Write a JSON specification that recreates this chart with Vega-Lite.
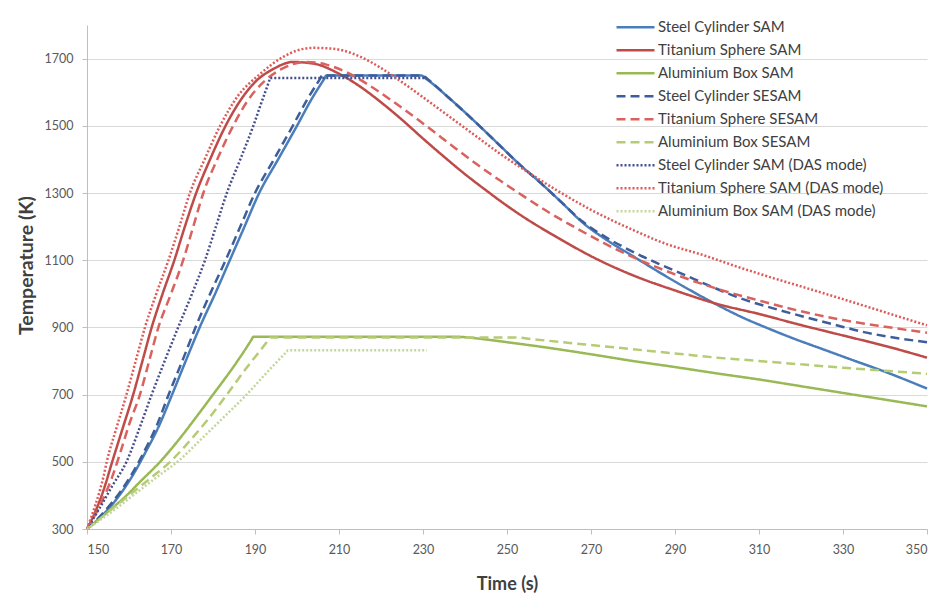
{
  "$schema": "https://vega.github.io/schema/vega-lite/v6.json",
  "width": 840,
  "height": 504,
  "autosize": {"type": "none"},
  "padding": {"left": 87, "top": 25, "right": 16, "bottom": 74},
  "background": "white",
  "config": {
    "view": {"stroke": null},
    "font": "Lato",
    "axis": {
      "domainColor": "#BFBFBF",
      "tickColor": "#BFBFBF",
      "tickSize": 5,
      "labelColor": "#595959",
      "labelFont": "Lato",
      "labelFontSize": 12.5,
      "labelPadding": 9,
      "titleFont": "Lato",
      "titleFontSize": 18,
      "titleFontWeight": "bold",
      "titleColor": "#404040",
      "gridColor": "#D9D9D9",
      "gridWidth": 1
    },
    "legend": {
      "orient": "none",
      "legendX": 528,
      "legendY": -9,
      "padding": 0,
      "symbolType": "stroke",
      "symbolSize": 1444,
      "labelFont": "Lato",
      "labelFontSize": 15,
      "labelColor": "#404040",
      "labelOffset": 2,
      "labelLimit": 0,
      "rowPadding": 0,
      "clipHeight": 22.4
    }
  },
  "data": {
    "values": [
      {"series": "Steel Cylinder SAM", "time": 150, "temp": 300},
      {"series": "Steel Cylinder SAM", "time": 154, "temp": 345},
      {"series": "Steel Cylinder SAM", "time": 158, "temp": 405},
      {"series": "Steel Cylinder SAM", "time": 161, "temp": 462},
      {"series": "Steel Cylinder SAM", "time": 164, "temp": 530},
      {"series": "Steel Cylinder SAM", "time": 167, "temp": 603},
      {"series": "Steel Cylinder SAM", "time": 170, "temp": 692},
      {"series": "Steel Cylinder SAM", "time": 173.5, "temp": 800},
      {"series": "Steel Cylinder SAM", "time": 177, "temp": 905},
      {"series": "Steel Cylinder SAM", "time": 180.5, "temp": 1000},
      {"series": "Steel Cylinder SAM", "time": 184, "temp": 1100},
      {"series": "Steel Cylinder SAM", "time": 187.5, "temp": 1200},
      {"series": "Steel Cylinder SAM", "time": 191, "temp": 1300},
      {"series": "Steel Cylinder SAM", "time": 195.5, "temp": 1400},
      {"series": "Steel Cylinder SAM", "time": 200, "temp": 1500},
      {"series": "Steel Cylinder SAM", "time": 203.5, "temp": 1580},
      {"series": "Steel Cylinder SAM", "time": 206.6, "temp": 1642},
      {"series": "Steel Cylinder SAM", "time": 207, "temp": 1650},
      {"series": "Steel Cylinder SAM", "time": 229.7, "temp": 1650},
      {"series": "Steel Cylinder SAM", "time": 230.1, "temp": 1646},
      {"series": "Steel Cylinder SAM", "time": 232, "temp": 1628},
      {"series": "Steel Cylinder SAM", "time": 236, "temp": 1585},
      {"series": "Steel Cylinder SAM", "time": 240, "temp": 1540},
      {"series": "Steel Cylinder SAM", "time": 244, "temp": 1493},
      {"series": "Steel Cylinder SAM", "time": 248, "temp": 1445},
      {"series": "Steel Cylinder SAM", "time": 253, "temp": 1385},
      {"series": "Steel Cylinder SAM", "time": 258, "temp": 1330},
      {"series": "Steel Cylinder SAM", "time": 263, "temp": 1272},
      {"series": "Steel Cylinder SAM", "time": 268, "temp": 1212},
      {"series": "Steel Cylinder SAM", "time": 274, "temp": 1158},
      {"series": "Steel Cylinder SAM", "time": 280, "temp": 1112},
      {"series": "Steel Cylinder SAM", "time": 286, "temp": 1066},
      {"series": "Steel Cylinder SAM", "time": 292, "temp": 1022},
      {"series": "Steel Cylinder SAM", "time": 299, "temp": 974},
      {"series": "Steel Cylinder SAM", "time": 306, "temp": 930},
      {"series": "Steel Cylinder SAM", "time": 312, "temp": 898},
      {"series": "Steel Cylinder SAM", "time": 318, "temp": 868},
      {"series": "Steel Cylinder SAM", "time": 325, "temp": 836},
      {"series": "Steel Cylinder SAM", "time": 332, "temp": 804},
      {"series": "Steel Cylinder SAM", "time": 340, "temp": 768},
      {"series": "Steel Cylinder SAM", "time": 350, "temp": 718},

      {"series": "Titanium Sphere SAM", "time": 150, "temp": 300},
      {"series": "Titanium Sphere SAM", "time": 152, "temp": 352},
      {"series": "Titanium Sphere SAM", "time": 154, "temp": 418},
      {"series": "Titanium Sphere SAM", "time": 156, "temp": 500},
      {"series": "Titanium Sphere SAM", "time": 158.5, "temp": 600},
      {"series": "Titanium Sphere SAM", "time": 161, "temp": 700},
      {"series": "Titanium Sphere SAM", "time": 163.2, "temp": 800},
      {"series": "Titanium Sphere SAM", "time": 165.4, "temp": 900},
      {"series": "Titanium Sphere SAM", "time": 168, "temp": 1000},
      {"series": "Titanium Sphere SAM", "time": 170.8, "temp": 1100},
      {"series": "Titanium Sphere SAM", "time": 173.3, "temp": 1200},
      {"series": "Titanium Sphere SAM", "time": 176, "temp": 1300},
      {"series": "Titanium Sphere SAM", "time": 179.3, "temp": 1400},
      {"series": "Titanium Sphere SAM", "time": 183, "temp": 1500},
      {"series": "Titanium Sphere SAM", "time": 186.5, "temp": 1575},
      {"series": "Titanium Sphere SAM", "time": 190, "temp": 1630},
      {"series": "Titanium Sphere SAM", "time": 194.5, "temp": 1670},
      {"series": "Titanium Sphere SAM", "time": 199, "temp": 1690},
      {"series": "Titanium Sphere SAM", "time": 204, "temp": 1685},
      {"series": "Titanium Sphere SAM", "time": 210, "temp": 1655},
      {"series": "Titanium Sphere SAM", "time": 215, "temp": 1617},
      {"series": "Titanium Sphere SAM", "time": 220, "temp": 1570},
      {"series": "Titanium Sphere SAM", "time": 225, "temp": 1518},
      {"series": "Titanium Sphere SAM", "time": 230, "temp": 1462},
      {"series": "Titanium Sphere SAM", "time": 235, "temp": 1408},
      {"series": "Titanium Sphere SAM", "time": 240, "temp": 1356},
      {"series": "Titanium Sphere SAM", "time": 245, "temp": 1308},
      {"series": "Titanium Sphere SAM", "time": 250, "temp": 1262},
      {"series": "Titanium Sphere SAM", "time": 255, "temp": 1220},
      {"series": "Titanium Sphere SAM", "time": 260, "temp": 1182},
      {"series": "Titanium Sphere SAM", "time": 265, "temp": 1146},
      {"series": "Titanium Sphere SAM", "time": 270, "temp": 1112},
      {"series": "Titanium Sphere SAM", "time": 280, "temp": 1055},
      {"series": "Titanium Sphere SAM", "time": 290, "temp": 1010},
      {"series": "Titanium Sphere SAM", "time": 300, "temp": 970},
      {"series": "Titanium Sphere SAM", "time": 310, "temp": 940},
      {"series": "Titanium Sphere SAM", "time": 320, "temp": 907},
      {"series": "Titanium Sphere SAM", "time": 330, "temp": 876},
      {"series": "Titanium Sphere SAM", "time": 340, "temp": 845},
      {"series": "Titanium Sphere SAM", "time": 350, "temp": 810},

      {"series": "Aluminium Box SAM", "time": 150, "temp": 300},
      {"series": "Aluminium Box SAM", "time": 155, "temp": 352},
      {"series": "Aluminium Box SAM", "time": 159, "temp": 395},
      {"series": "Aluminium Box SAM", "time": 163, "temp": 445},
      {"series": "Aluminium Box SAM", "time": 167.4, "temp": 500},
      {"series": "Aluminium Box SAM", "time": 172, "temp": 568},
      {"series": "Aluminium Box SAM", "time": 176, "temp": 633},
      {"series": "Aluminium Box SAM", "time": 180, "temp": 700},
      {"series": "Aluminium Box SAM", "time": 185, "temp": 785},
      {"series": "Aluminium Box SAM", "time": 189.2, "temp": 864},
      {"series": "Aluminium Box SAM", "time": 189.6, "temp": 872},
      {"series": "Aluminium Box SAM", "time": 238, "temp": 872},
      {"series": "Aluminium Box SAM", "time": 245, "temp": 864},
      {"series": "Aluminium Box SAM", "time": 250, "temp": 856},
      {"series": "Aluminium Box SAM", "time": 260, "temp": 839},
      {"series": "Aluminium Box SAM", "time": 270, "temp": 820},
      {"series": "Aluminium Box SAM", "time": 280, "temp": 800},
      {"series": "Aluminium Box SAM", "time": 290, "temp": 782},
      {"series": "Aluminium Box SAM", "time": 300, "temp": 763},
      {"series": "Aluminium Box SAM", "time": 310, "temp": 745},
      {"series": "Aluminium Box SAM", "time": 320, "temp": 725},
      {"series": "Aluminium Box SAM", "time": 330, "temp": 705},
      {"series": "Aluminium Box SAM", "time": 340, "temp": 685},
      {"series": "Aluminium Box SAM", "time": 350, "temp": 665},

      {"series": "Steel Cylinder SESAM", "time": 150, "temp": 300},
      {"series": "Steel Cylinder SESAM", "time": 154, "temp": 350},
      {"series": "Steel Cylinder SESAM", "time": 158, "temp": 412},
      {"series": "Steel Cylinder SESAM", "time": 161, "temp": 470},
      {"series": "Steel Cylinder SESAM", "time": 164, "temp": 540},
      {"series": "Steel Cylinder SESAM", "time": 166.5, "temp": 605},
      {"series": "Steel Cylinder SESAM", "time": 169.5, "temp": 702},
      {"series": "Steel Cylinder SESAM", "time": 173, "temp": 810},
      {"series": "Steel Cylinder SESAM", "time": 176, "temp": 905},
      {"series": "Steel Cylinder SESAM", "time": 179.5, "temp": 1005},
      {"series": "Steel Cylinder SESAM", "time": 183, "temp": 1100},
      {"series": "Steel Cylinder SESAM", "time": 186.5, "temp": 1200},
      {"series": "Steel Cylinder SESAM", "time": 190, "temp": 1300},
      {"series": "Steel Cylinder SESAM", "time": 194.5, "temp": 1400},
      {"series": "Steel Cylinder SESAM", "time": 199, "temp": 1500},
      {"series": "Steel Cylinder SESAM", "time": 202.5, "temp": 1580},
      {"series": "Steel Cylinder SESAM", "time": 205.6, "temp": 1642},
      {"series": "Steel Cylinder SESAM", "time": 206, "temp": 1650},
      {"series": "Steel Cylinder SESAM", "time": 230, "temp": 1650},
      {"series": "Steel Cylinder SESAM", "time": 230.4, "temp": 1646},
      {"series": "Steel Cylinder SESAM", "time": 232, "temp": 1630},
      {"series": "Steel Cylinder SESAM", "time": 236, "temp": 1585},
      {"series": "Steel Cylinder SESAM", "time": 240, "temp": 1540},
      {"series": "Steel Cylinder SESAM", "time": 244, "temp": 1493},
      {"series": "Steel Cylinder SESAM", "time": 248, "temp": 1445},
      {"series": "Steel Cylinder SESAM", "time": 253, "temp": 1385},
      {"series": "Steel Cylinder SESAM", "time": 258, "temp": 1330},
      {"series": "Steel Cylinder SESAM", "time": 263, "temp": 1272},
      {"series": "Steel Cylinder SESAM", "time": 268, "temp": 1215},
      {"series": "Steel Cylinder SESAM", "time": 274, "temp": 1165},
      {"series": "Steel Cylinder SESAM", "time": 280, "temp": 1125},
      {"series": "Steel Cylinder SESAM", "time": 286, "temp": 1090},
      {"series": "Steel Cylinder SESAM", "time": 292, "temp": 1058},
      {"series": "Steel Cylinder SESAM", "time": 298, "temp": 1025},
      {"series": "Steel Cylinder SESAM", "time": 306, "temp": 985},
      {"series": "Steel Cylinder SESAM", "time": 313, "temp": 958},
      {"series": "Steel Cylinder SESAM", "time": 320, "temp": 934},
      {"series": "Steel Cylinder SESAM", "time": 328, "temp": 908},
      {"series": "Steel Cylinder SESAM", "time": 335, "temp": 886},
      {"series": "Steel Cylinder SESAM", "time": 342, "temp": 870},
      {"series": "Steel Cylinder SESAM", "time": 350, "temp": 856},

      {"series": "Titanium Sphere SESAM", "time": 150, "temp": 300},
      {"series": "Titanium Sphere SESAM", "time": 153, "temp": 368},
      {"series": "Titanium Sphere SESAM", "time": 156, "temp": 455},
      {"series": "Titanium Sphere SESAM", "time": 158, "temp": 530},
      {"series": "Titanium Sphere SESAM", "time": 160, "temp": 610},
      {"series": "Titanium Sphere SESAM", "time": 162.6, "temp": 700},
      {"series": "Titanium Sphere SESAM", "time": 164.8, "temp": 800},
      {"series": "Titanium Sphere SESAM", "time": 167, "temp": 900},
      {"series": "Titanium Sphere SESAM", "time": 170, "temp": 1000},
      {"series": "Titanium Sphere SESAM", "time": 172.9, "temp": 1100},
      {"series": "Titanium Sphere SESAM", "time": 175.3, "temp": 1200},
      {"series": "Titanium Sphere SESAM", "time": 177.7, "temp": 1300},
      {"series": "Titanium Sphere SESAM", "time": 181, "temp": 1400},
      {"series": "Titanium Sphere SESAM", "time": 184.8, "temp": 1500},
      {"series": "Titanium Sphere SESAM", "time": 188, "temp": 1570},
      {"series": "Titanium Sphere SESAM", "time": 192, "temp": 1630},
      {"series": "Titanium Sphere SESAM", "time": 196.5, "temp": 1670},
      {"series": "Titanium Sphere SESAM", "time": 202, "temp": 1690},
      {"series": "Titanium Sphere SESAM", "time": 207, "temp": 1682},
      {"series": "Titanium Sphere SESAM", "time": 212, "temp": 1658},
      {"series": "Titanium Sphere SESAM", "time": 217, "temp": 1622},
      {"series": "Titanium Sphere SESAM", "time": 222, "temp": 1580},
      {"series": "Titanium Sphere SESAM", "time": 227, "temp": 1535},
      {"series": "Titanium Sphere SESAM", "time": 232, "temp": 1488},
      {"series": "Titanium Sphere SESAM", "time": 237, "temp": 1440},
      {"series": "Titanium Sphere SESAM", "time": 242, "temp": 1393},
      {"series": "Titanium Sphere SESAM", "time": 248, "temp": 1340},
      {"series": "Titanium Sphere SESAM", "time": 254, "temp": 1290},
      {"series": "Titanium Sphere SESAM", "time": 260, "temp": 1242},
      {"series": "Titanium Sphere SESAM", "time": 267, "temp": 1192},
      {"series": "Titanium Sphere SESAM", "time": 274, "temp": 1145},
      {"series": "Titanium Sphere SESAM", "time": 282, "temp": 1098},
      {"series": "Titanium Sphere SESAM", "time": 290, "temp": 1058},
      {"series": "Titanium Sphere SESAM", "time": 300, "temp": 1015},
      {"series": "Titanium Sphere SESAM", "time": 310, "temp": 980},
      {"series": "Titanium Sphere SESAM", "time": 320, "temp": 948},
      {"series": "Titanium Sphere SESAM", "time": 330, "temp": 922},
      {"series": "Titanium Sphere SESAM", "time": 340, "temp": 902},
      {"series": "Titanium Sphere SESAM", "time": 350, "temp": 884},

      {"series": "Aluminium Box SESAM", "time": 150, "temp": 300},
      {"series": "Aluminium Box SESAM", "time": 155, "temp": 350},
      {"series": "Aluminium Box SESAM", "time": 160, "temp": 400},
      {"series": "Aluminium Box SESAM", "time": 165, "temp": 450},
      {"series": "Aluminium Box SESAM", "time": 169.8, "temp": 500},
      {"series": "Aluminium Box SESAM", "time": 175, "temp": 570},
      {"series": "Aluminium Box SESAM", "time": 180, "temp": 645},
      {"series": "Aluminium Box SESAM", "time": 183.3, "temp": 700},
      {"series": "Aluminium Box SESAM", "time": 188, "temp": 780},
      {"series": "Aluminium Box SESAM", "time": 193.2, "temp": 863},
      {"series": "Aluminium Box SESAM", "time": 193.6, "temp": 870},
      {"series": "Aluminium Box SESAM", "time": 252, "temp": 870},
      {"series": "Aluminium Box SESAM", "time": 256, "temp": 865},
      {"series": "Aluminium Box SESAM", "time": 260, "temp": 860},
      {"series": "Aluminium Box SESAM", "time": 268, "temp": 850},
      {"series": "Aluminium Box SESAM", "time": 276, "temp": 840},
      {"series": "Aluminium Box SESAM", "time": 284, "temp": 830},
      {"series": "Aluminium Box SESAM", "time": 292, "temp": 820},
      {"series": "Aluminium Box SESAM", "time": 300, "temp": 810},
      {"series": "Aluminium Box SESAM", "time": 310, "temp": 800},
      {"series": "Aluminium Box SESAM", "time": 320, "temp": 790},
      {"series": "Aluminium Box SESAM", "time": 330, "temp": 780},
      {"series": "Aluminium Box SESAM", "time": 340, "temp": 771},
      {"series": "Aluminium Box SESAM", "time": 350, "temp": 762},

      {"series": "Steel Cylinder SAM (DAS mode)", "time": 150, "temp": 300},
      {"series": "Steel Cylinder SAM (DAS mode)", "time": 153, "temp": 362},
      {"series": "Steel Cylinder SAM (DAS mode)", "time": 156, "temp": 428},
      {"series": "Steel Cylinder SAM (DAS mode)", "time": 159.4, "temp": 500},
      {"series": "Steel Cylinder SAM (DAS mode)", "time": 162.5, "temp": 600},
      {"series": "Steel Cylinder SAM (DAS mode)", "time": 165.4, "temp": 700},
      {"series": "Steel Cylinder SAM (DAS mode)", "time": 168.5, "temp": 800},
      {"series": "Steel Cylinder SAM (DAS mode)", "time": 171.7, "temp": 900},
      {"series": "Steel Cylinder SAM (DAS mode)", "time": 175, "temp": 1000},
      {"series": "Steel Cylinder SAM (DAS mode)", "time": 178.1, "temp": 1100},
      {"series": "Steel Cylinder SAM (DAS mode)", "time": 180.7, "temp": 1200},
      {"series": "Steel Cylinder SAM (DAS mode)", "time": 183.3, "temp": 1300},
      {"series": "Steel Cylinder SAM (DAS mode)", "time": 186.5, "temp": 1400},
      {"series": "Steel Cylinder SAM (DAS mode)", "time": 189.6, "temp": 1500},
      {"series": "Steel Cylinder SAM (DAS mode)", "time": 191.5, "temp": 1568},
      {"series": "Steel Cylinder SAM (DAS mode)", "time": 193.3, "temp": 1631},
      {"series": "Steel Cylinder SAM (DAS mode)", "time": 193.6, "temp": 1642},
      {"series": "Steel Cylinder SAM (DAS mode)", "time": 231, "temp": 1642},

      {"series": "Titanium Sphere SAM (DAS mode)", "time": 150, "temp": 300},
      {"series": "Titanium Sphere SAM (DAS mode)", "time": 151, "temp": 335},
      {"series": "Titanium Sphere SAM (DAS mode)", "time": 152, "temp": 372},
      {"series": "Titanium Sphere SAM (DAS mode)", "time": 153, "temp": 412},
      {"series": "Titanium Sphere SAM (DAS mode)", "time": 154, "temp": 460},
      {"series": "Titanium Sphere SAM (DAS mode)", "time": 154.7, "temp": 500},
      {"series": "Titanium Sphere SAM (DAS mode)", "time": 157, "temp": 600},
      {"series": "Titanium Sphere SAM (DAS mode)", "time": 159.4, "temp": 700},
      {"series": "Titanium Sphere SAM (DAS mode)", "time": 161.6, "temp": 800},
      {"series": "Titanium Sphere SAM (DAS mode)", "time": 163.8, "temp": 900},
      {"series": "Titanium Sphere SAM (DAS mode)", "time": 166.5, "temp": 1000},
      {"series": "Titanium Sphere SAM (DAS mode)", "time": 169.4, "temp": 1100},
      {"series": "Titanium Sphere SAM (DAS mode)", "time": 172, "temp": 1200},
      {"series": "Titanium Sphere SAM (DAS mode)", "time": 174.5, "temp": 1300},
      {"series": "Titanium Sphere SAM (DAS mode)", "time": 178, "temp": 1400},
      {"series": "Titanium Sphere SAM (DAS mode)", "time": 181.7, "temp": 1500},
      {"series": "Titanium Sphere SAM (DAS mode)", "time": 186, "temp": 1590},
      {"series": "Titanium Sphere SAM (DAS mode)", "time": 191, "temp": 1652},
      {"series": "Titanium Sphere SAM (DAS mode)", "time": 196.7, "temp": 1705},
      {"series": "Titanium Sphere SAM (DAS mode)", "time": 200, "temp": 1724},
      {"series": "Titanium Sphere SAM (DAS mode)", "time": 204, "temp": 1732},
      {"series": "Titanium Sphere SAM (DAS mode)", "time": 208, "temp": 1730},
      {"series": "Titanium Sphere SAM (DAS mode)", "time": 211, "temp": 1724},
      {"series": "Titanium Sphere SAM (DAS mode)", "time": 215, "temp": 1706},
      {"series": "Titanium Sphere SAM (DAS mode)", "time": 220, "temp": 1672},
      {"series": "Titanium Sphere SAM (DAS mode)", "time": 225, "temp": 1630},
      {"series": "Titanium Sphere SAM (DAS mode)", "time": 230, "temp": 1585},
      {"series": "Titanium Sphere SAM (DAS mode)", "time": 236, "temp": 1530},
      {"series": "Titanium Sphere SAM (DAS mode)", "time": 242, "temp": 1475},
      {"series": "Titanium Sphere SAM (DAS mode)", "time": 248, "temp": 1420},
      {"series": "Titanium Sphere SAM (DAS mode)", "time": 255, "temp": 1362},
      {"series": "Titanium Sphere SAM (DAS mode)", "time": 262, "temp": 1307},
      {"series": "Titanium Sphere SAM (DAS mode)", "time": 270, "temp": 1250},
      {"series": "Titanium Sphere SAM (DAS mode)", "time": 280, "temp": 1190},
      {"series": "Titanium Sphere SAM (DAS mode)", "time": 288, "temp": 1148},
      {"series": "Titanium Sphere SAM (DAS mode)", "time": 296, "temp": 1118},
      {"series": "Titanium Sphere SAM (DAS mode)", "time": 305, "temp": 1080},
      {"series": "Titanium Sphere SAM (DAS mode)", "time": 312, "temp": 1052},
      {"series": "Titanium Sphere SAM (DAS mode)", "time": 320, "temp": 1022},
      {"series": "Titanium Sphere SAM (DAS mode)", "time": 330, "temp": 984},
      {"series": "Titanium Sphere SAM (DAS mode)", "time": 340, "temp": 945},
      {"series": "Titanium Sphere SAM (DAS mode)", "time": 350, "temp": 906},

      {"series": "Aluminium Box SAM (DAS mode)", "time": 150, "temp": 300},
      {"series": "Aluminium Box SAM (DAS mode)", "time": 156, "temp": 352},
      {"series": "Aluminium Box SAM (DAS mode)", "time": 162, "temp": 410},
      {"series": "Aluminium Box SAM (DAS mode)", "time": 167, "temp": 458},
      {"series": "Aluminium Box SAM (DAS mode)", "time": 172, "temp": 505},
      {"series": "Aluminium Box SAM (DAS mode)", "time": 177, "temp": 565},
      {"series": "Aluminium Box SAM (DAS mode)", "time": 182.5, "temp": 632},
      {"series": "Aluminium Box SAM (DAS mode)", "time": 188, "temp": 700},
      {"series": "Aluminium Box SAM (DAS mode)", "time": 193, "temp": 768},
      {"series": "Aluminium Box SAM (DAS mode)", "time": 197.5, "temp": 827},
      {"series": "Aluminium Box SAM (DAS mode)", "time": 197.9, "temp": 832},
      {"series": "Aluminium Box SAM (DAS mode)", "time": 230.9, "temp": 832}
    ]
  },
  "mark": {"type": "line", "interpolate": "monotone"},
  "encoding": {
    "x": {
      "field": "time",
      "type": "quantitative",
      "title": "Time (s)",
      "scale": {"domain": [150, 350], "nice": false, "zero": false},
      "axis": {
        "values": [150, 170, 190, 210, 230, 250, 270, 290, 310, 330, 350],
        "format": "d",
        "grid": false,
        "titlePadding": 20
      }
    },
    "y": {
      "field": "temp",
      "type": "quantitative",
      "title": "Temperature (K)",
      "scale": {"domain": [300, 1800], "nice": false, "zero": false},
      "axis": {
        "values": [300, 500, 700, 900, 1100, 1300, 1500, 1700],
        "format": "d",
        "grid": true,
        "titleFontSize": 19.5,
        "titleY": 240,
        "titlePadding": 8
      }
    },
    "color": {
      "field": "series",
      "type": "nominal",
      "legend": {"title": null},
      "scale": {
        "domain": [
          "Steel Cylinder SAM", "Titanium Sphere SAM", "Aluminium Box SAM",
          "Steel Cylinder SESAM", "Titanium Sphere SESAM", "Aluminium Box SESAM",
          "Steel Cylinder SAM (DAS mode)", "Titanium Sphere SAM (DAS mode)", "Aluminium Box SAM (DAS mode)"
        ],
        "range": ["#4A7EBB", "#BE4B48", "#98B954", "#3D5E9A", "#DA625E", "#B5CC74", "#464F8E", "#DC5A57", "#C3D69B"]
      }
    },
    "strokeDash": {
      "field": "series",
      "type": "nominal",
      "legend": {"title": null},
      "scale": {
        "domain": [
          "Steel Cylinder SAM", "Titanium Sphere SAM", "Aluminium Box SAM",
          "Steel Cylinder SESAM", "Titanium Sphere SESAM", "Aluminium Box SESAM",
          "Steel Cylinder SAM (DAS mode)", "Titanium Sphere SAM (DAS mode)", "Aluminium Box SAM (DAS mode)"
        ],
        "range": [[1, 0], [1, 0], [1, 0], [9, 5], [9, 5], [9, 5], [2, 2], [2, 2], [2, 2]]
      }
    },
    "strokeWidth": {
      "field": "series",
      "type": "nominal",
      "legend": {"title": null},
      "scale": {
        "domain": [
          "Steel Cylinder SAM", "Titanium Sphere SAM", "Aluminium Box SAM",
          "Steel Cylinder SESAM", "Titanium Sphere SESAM", "Aluminium Box SESAM",
          "Steel Cylinder SAM (DAS mode)", "Titanium Sphere SAM (DAS mode)", "Aluminium Box SAM (DAS mode)"
        ],
        "range": [2.5, 2.5, 2.5, 2.5, 2.5, 2.5, 2, 1.8, 1.8]
      }
    }
  }
}
